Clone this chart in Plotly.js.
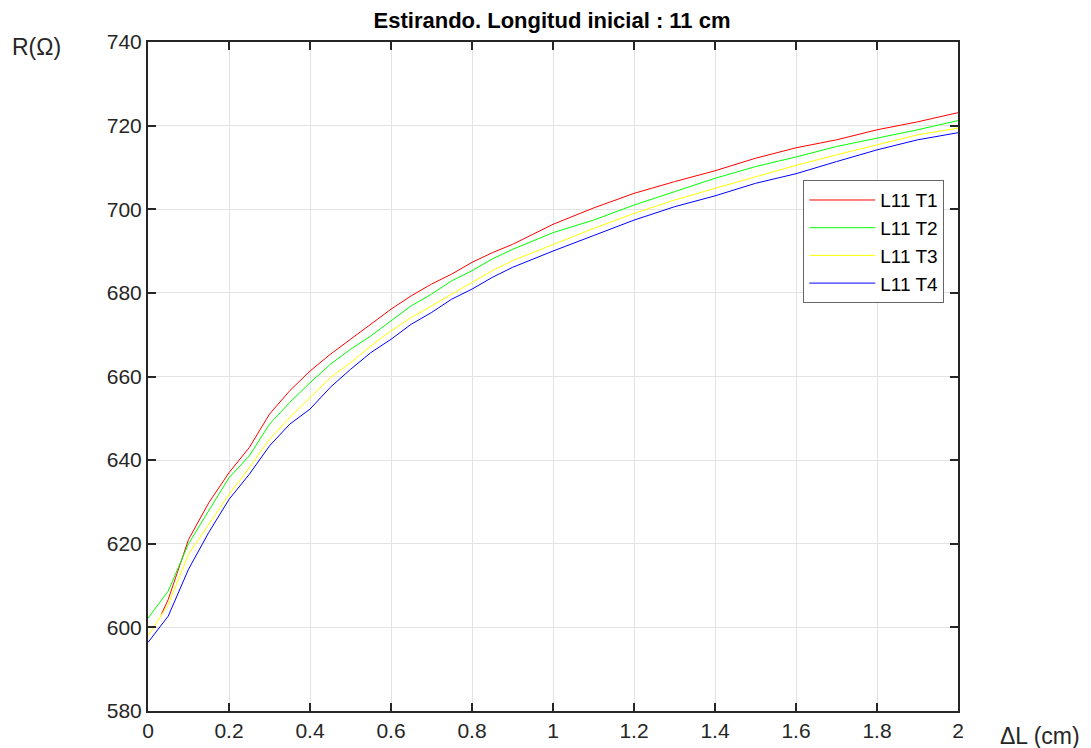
<!DOCTYPE html>
<html>
<head>
<meta charset="utf-8">
<script src="https://cdn.plot.ly/plotly-3.0.1.min.js"></script>
<style>html,body{margin:0;padding:0;background:#fff;}#chart{width:1091px;height:748px;}</style>
</head>
<body>
<div id="chart"></div>
<script>
// ΔL (cm) sample positions
var xFull = [0, 0.05, 0.1, 0.15, 0.2, 0.25, 0.3, 0.35, 0.4, 0.45, 0.5, 0.55, 0.6, 0.65, 0.7, 0.75, 0.8, 0.85, 0.9, 0.95, 1.0,
             1.1, 1.2, 1.3, 1.4, 1.5, 1.6, 1.7, 1.8, 1.9, 2.0];
var xT1 = [0.033, 0.05, 0.1, 0.15, 0.2, 0.25, 0.3, 0.35, 0.4, 0.45, 0.5, 0.55, 0.6, 0.65, 0.7, 0.75, 0.8, 0.85, 0.9, 0.95, 1.0,
           1.1, 1.2, 1.3, 1.4, 1.5, 1.6, 1.7, 1.8, 1.9, 2.0];

// R (Ω) readings per test
var rT1 = [603.1, 606.7, 621.0, 629.8, 637.0, 643.0, 651.0, 656.6, 661.3, 665.3, 668.9, 672.5, 676.1, 679.3, 682.1, 684.5, 687.3, 689.6, 691.6, 694.0, 696.4,
           700.3, 703.8, 706.6, 709.2, 712.2, 714.7, 716.6, 719.0, 720.9, 723.1];
var rT2 = [602.2, 608.7, 620.0, 627.8, 635.8, 641.0, 648.6, 653.8, 658.5, 662.9, 666.5, 669.7, 673.3, 676.9, 679.7, 682.9, 685.3, 688.1, 690.4, 692.4, 694.4,
           697.4, 701.0, 704.2, 707.4, 710.2, 712.5, 715.0, 717.0, 719.0, 721.2];
var rT3 = [598.0, 605.5, 617.5, 624.7, 631.8, 638.2, 645.0, 650.2, 655.0, 659.7, 663.3, 667.3, 670.9, 674.1, 676.9, 679.7, 682.5, 685.3, 687.7, 689.6, 691.6,
           695.4, 699.0, 702.2, 705.0, 707.8, 710.5, 713.0, 715.4, 717.8, 719.4];
var rT4 = [596.4, 602.7, 613.9, 622.7, 630.6, 636.6, 643.4, 648.6, 652.2, 657.4, 661.7, 665.7, 668.9, 672.5, 675.3, 678.5, 680.9, 683.7, 686.1, 688.1, 690.0,
           693.7, 697.4, 700.6, 703.2, 706.2, 708.5, 711.4, 714.2, 716.6, 718.3];

var names = ['L11 T1', 'L11 T2', 'L11 T3', 'L11 T4'];
var colors = ['#ff0000', '#00ff00', '#ffff00', '#0000ff'];
var xTicks = [0, 0.2, 0.4, 0.6, 0.8, 1, 1.2, 1.4, 1.6, 1.8, 2];
var yTicks = [580, 600, 620, 640, 660, 680, 700, 720, 740];

var xs = [xT1, xFull, xFull, xFull];
var ys = [rT1, rT2, rT3, rT4];
var traces = [];
for (var i = 0; i < 4; i++) {
  traces.push({x: xs[i], y: ys[i], type: 'scatter', mode: 'lines', name: names[i],
    line: {color: colors[i], width: 1}});
}

var font = 'Liberation Sans, Arial, Helvetica, sans-serif';
var axisCommon = {
  showline: true, mirror: 'ticks', linecolor: '#262626', linewidth: 2,
  ticks: 'inside', ticklen: 8, tickwidth: 2, tickcolor: '#262626',
  showgrid: true, gridcolor: '#e3e3e3', gridwidth: 1, zeroline: false,
  tickfont: {family: font, size: 21, color: '#262626'}
};

var layout = {
  width: 1091, height: 748,
  margin: {l: 148, r: 133, t: 42, b: 37},
  paper_bgcolor: '#ffffff', plot_bgcolor: '#ffffff',
  font: {family: font, color: '#262626'},
  title: {text: '<b>Estirando. Longitud inicial : 11 cm</b>', font: {family: font, size: 22, color: '#000000'},
    x: 0.506, xanchor: 'center', y: 0.973, yanchor: 'middle'},
  xaxis: Object.assign({}, axisCommon, {range: [0, 2], tickvals: xTicks, ticktext: xTicks.map(String)}),
  yaxis: Object.assign({}, axisCommon, {range: [580, 740], tickvals: yTicks}),
  showlegend: true,
  legend: {x: 0.809, xanchor: 'left', y: 0.7935, yanchor: 'top', bgcolor: '#ffffff',
    bordercolor: '#666666', borderwidth: 1, font: {family: font, size: 19, color: '#000000'},
    tracegroupgap: 0, itemwidth: 66, entrywidth: 147},
  annotations: [
    {text: 'R(Ω)', xref: 'paper', yref: 'paper', x: -0.138, y: 0.9925, xanchor: 'center', yanchor: 'middle',
      showarrow: false, font: {family: font, size: 23, color: '#262626'}},
    {text: 'ΔL (cm)', xref: 'paper', yref: 'paper', x: 1.101, y: -0.037, xanchor: 'center', yanchor: 'middle',
      showarrow: false, font: {family: font, size: 23, color: '#262626'}}
  ]
};

Plotly.newPlot('chart', traces, layout, {displayModeBar: false, staticPlot: true});
</script>
</body>
</html>
